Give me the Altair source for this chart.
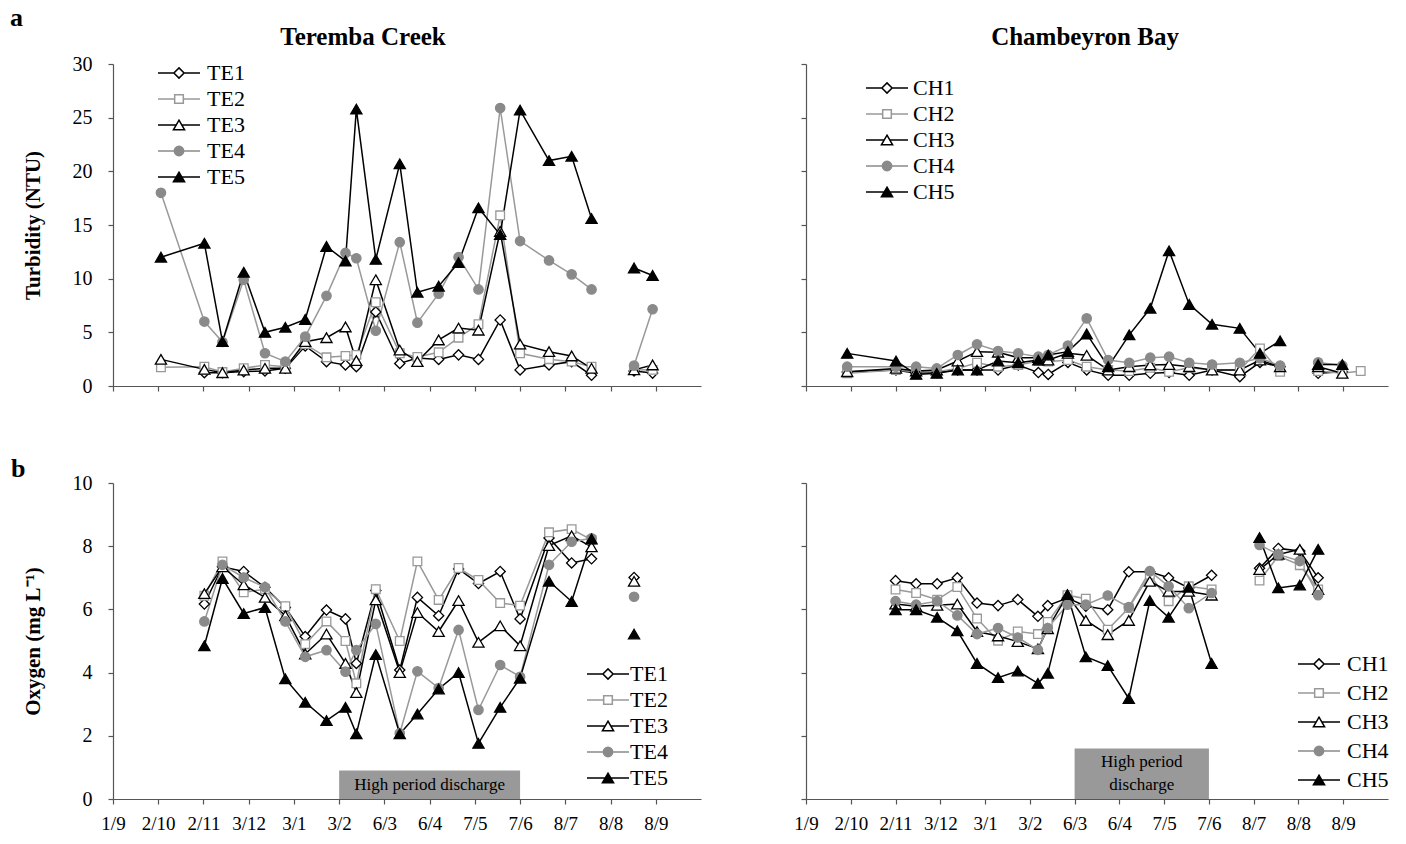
import altair as alt
import pandas as pd

FONT = "Liberation Serif"
MONTHS = ["1/9", "2/10", "2/11", "3/12", "3/1", "3/2", "6/3", "6/4", "7/5", "7/6", "8/7", "8/8", "8/9"]

# ---------------- Turbidity, Teremba Creek ----------------
X_TE_TURB = [1.06, 2.02, 2.42, 2.89, 3.36, 3.81, 4.25, 4.72, 5.14, 5.38, 5.81, 6.34, 6.73,
             7.20, 7.64, 8.08, 8.56, 9.0, 9.64, 10.14, 10.58, 11.52, 11.93]
TE1_TURB = [None, 1.24, 1.24, 1.34, 1.4, 1.65, 3.73, 2.27, 1.96, 1.8, 6.9, 2.1, 2.6,
            2.48, 2.9, 2.48, 6.15, 1.5, 1.96, 2.27, 1.0, 1.4, 1.2]
TE2_TURB = [1.74, 1.8, 1.3, 1.65, 1.96, 1.8, 3.9, 2.67, 2.8, 2.9, 7.8, 3.05, 2.7,
            3.14, 4.5, 5.75, 15.9, 3.05, 2.5, 2.27, 1.8, 1.5, 1.5]
TE3_TURB = [2.48, 1.55, 1.24, 1.49, 1.65, 1.65, 4.13, 4.5, 5.5, 2.36, 9.9, 3.35, 2.27,
            4.29, 5.4, 5.2, 14.4, 3.9, 3.2, 2.8, 1.65, 1.5, 1.96]
TE4_TURB = [18.0, 6.0, 4.1, 9.9, 3.05, 2.27, 4.6, 8.4, 12.4, 11.9, 5.15, 13.4, 5.9,
            8.6, 12.0, 9.0, 25.9, 13.5, 11.7, 10.4, 9.0, 1.9, 7.15]
TE5_TURB = [12.0, 13.3, 4.13, 10.6, 5.0, 5.47, 6.2, 13.0, 11.65, 25.8, 11.8, 20.7, 8.73,
            9.3, 11.5, 16.6, 14.1, 25.7, 21.0, 21.4, 15.6, 11.0, 10.3]

# ---------------- Turbidity, Chambeyron Bay ----------------
X_CH_TURB = [0.92, 2.01, 2.46, 2.92, 3.39, 3.82, 4.29, 4.74, 5.19, 5.41, 5.85, 6.27, 6.75,
             7.22, 7.69, 8.11, 8.56, 9.07, 9.69, 10.14, 10.59, 11.44, 11.98, 12.39]
CH1_TURB = [1.3, 1.49, 1.18, 1.25, 1.49, 1.49, 1.49, 1.96, 1.25, 1.08, 2.2, 1.5, 1.0,
            1.0, 1.18, 1.25, 1.0, 1.49, 0.87, 2.2, 1.8, 1.18, 1.33, None]
CH2_TURB = [1.18, 1.49, 1.33, 1.33, 1.64, 2.17, 1.8, 1.96, 2.33, 2.27, 2.42, 1.8, 1.49,
            1.4, 1.7, 1.33, 1.7, 1.49, 1.49, 3.5, 1.33, 1.4, 1.18, 1.4]
CH3_TURB = [1.33, 1.64, 1.4, 1.49, 2.33, 3.2, 3.15, 2.64, 2.64, 2.42, 3.04, 2.86, 1.49,
            1.8, 1.96, 2.0, 1.8, 1.49, 1.49, 2.42, 1.8, 1.8, 1.18, None]
CH4_TURB = [1.8, 1.8, 1.8, 1.64, 2.89, 3.88, 3.26, 3.04, 2.73, 2.89, 3.76, 6.3, 2.42,
            2.17, 2.64, 2.73, 2.17, 2.0, 2.17, 2.58, 1.9, 2.2, 1.9, None]
CH5_TURB = [3.04, 2.33, 1.08, 1.18, 1.49, 1.49, 2.33, 2.17, 2.42, 2.89, 3.2, 4.85, 1.8,
            4.76, 7.24, 12.6, 7.6, 5.75, 5.37, 3.04, 4.2, 2.0, 2.0, None]

# ---------------- Oxygen, Teremba Creek ----------------
X_TE_OX = [2.02, 2.42, 2.89, 3.36, 3.81, 4.25, 4.72, 5.14, 5.38, 5.81, 6.34, 6.73,
           7.20, 7.64, 8.08, 8.56, 9.0, 9.64, 10.14, 10.58, 11.52]
TE1_OX = [6.17, 7.35, 7.2, 6.7, 6.06, 5.14, 5.98, 5.7, 4.29, 6.6, 4.08, 6.38,
          5.8, 7.28, 6.82, 7.2, 5.7, 8.26, 7.47, 7.6, 7.01]
TE2_OX = [6.43, 7.52, 6.54, 6.64, 6.1, 4.9, 5.62, 5.0, 3.66, 6.64, 5.0, 7.52,
          6.3, 7.31, 6.93, 6.2, 6.12, 8.44, 8.54, 8.2, None]
TE3_OX = [6.5, 7.35, 6.78, 6.38, 5.8, 4.59, 5.22, 4.29, 3.37, 6.3, 4.0, 5.9,
          5.3, 6.28, 4.96, 5.48, 4.85, 8.02, 8.33, 7.98, 6.89]
TE4_OX = [5.62, 7.41, 7.01, 6.7, 5.62, 4.5, 4.71, 4.03, 4.71, 5.54, 2.08, 4.04,
          3.51, 5.35, 2.82, 4.24, 3.87, 7.41, 8.14, 8.25, 6.4]
TE5_OX = [4.85, 6.98, 5.87, 6.06, 3.8, 3.06, 2.48, 2.9, 2.06, 4.57, 2.06, 2.69,
          3.48, 4.0, 1.76, 2.9, 3.82, 6.89, 6.25, 8.23, 5.22]

# ---------------- Oxygen, Chambeyron Bay ----------------
X_CH_OX = [2.0, 2.46, 2.93, 3.38, 3.82, 4.29, 4.73, 5.18, 5.40, 5.84, 6.25, 6.74,
           7.21, 7.68, 8.1, 8.55, 9.06, 10.13, 10.55, 11.03, 11.44]
CH1_OX = [6.91, 6.81, 6.81, 7.0, 6.2, 6.12, 6.31, 5.78, 6.12, 6.36, 6.1, 5.99,
          7.19, 7.19, 7.0, 6.68, 7.08, 7.3, 7.93, 7.85, 7.0]
CH2_OX = [6.63, 6.52, 6.31, 6.71, 5.71, 5.01, 5.3, 5.22, 5.6, 6.45, 6.34, 5.36,
          6.04, 7.1, 6.26, 6.73, 6.63, 6.91, 7.69, 7.4, 6.63]
CH3_OX = [6.17, 6.1, 6.13, 6.17, 5.3, 5.16, 4.98, 4.75, 5.39, 6.45, 5.65, 5.2,
          5.65, 6.89, 6.57, 6.57, 6.45, 7.26, 7.74, 7.9, 6.63]
CH4_OX = [6.26, 6.15, 6.26, 5.81, 5.22, 5.41, 5.11, 4.72, 5.41, 6.15, 6.15, 6.44,
          6.07, 7.21, 6.73, 6.04, 6.52, 8.04, 7.74, 7.53, 6.45]
CH5_OX = [5.99, 5.99, 5.75, 5.32, 4.29, 3.84, 4.05, 3.66, 3.98, 6.47, 4.5, 4.22,
          3.18, 6.28, 5.75, 6.7, 4.29, 8.27, 6.68, 6.77, 7.9]

# sampling gaps (lines are broken between these x positions)
BREAK_TE_TURB, BREAK_CH_TURB, BREAK_TE_OX, BREAK_CH_OX = 11.0, 11.0, 11.0, 9.6

# "High period discharge" boxes
DISCHARGE_TE = {"x0": 5, "x1": 9, "y0": 0, "y1": 0.9, "label": "High period discharge"}
DISCHARGE_CH = {"x0": 6, "x1": 9, "y0": 0, "y1": 1.6, "label": "High period\ndischarge"}

TE_NAMES = ["TE1", "TE2", "TE3", "TE4", "TE5"]
CH_NAMES = ["CH1", "CH2", "CH3", "CH4", "CH5"]

# styles
BLACK, GRAY, GRAYFILL, AXC = "#000000", "#999999", "#8a8a8a", "#555555"
LINE_COLORS = [BLACK, GRAY, BLACK, GRAY, BLACK]
STROKES = [BLACK, GRAY, BLACK, GRAYFILL, BLACK]
FILLS = ["#ffffff", "#ffffff", "#ffffff", GRAYFILL, BLACK]
DIA = "M0,-0.85L0.85,0L0,0.85L-0.85,0Z"
SQ = "M-0.72,-0.72H0.72V0.72H-0.72Z"
TRI = "M0,-0.8L0.93,0.8L-0.93,0.8Z"
CIR = "M-0.78,0A0.78,0.78 0 1,0 0.78,0A0.78,0.78 0 1,0 -0.78,0Z"
POINT_PATHS = [DIA, SQ, TRI, CIR, TRI]
LEG_PATHS = [
    "M-3.5,0H-0.85M0.85,0H3.5" + DIA,
    "M-3.5,0H-0.72M0.72,0H3.5" + SQ,
    "M-3.5,0H-0.465M0.465,0H3.5" + TRI,
    "M-3.5,0H3.5" + CIR,
    "M-3.5,0H3.5" + TRI,
]
LABEL_EXPR = "[" + ",".join("'%s'" % m for m in MONTHS) + "][datum.value]"


def make_df(xs, series, names, brk):
    rows = []
    for name, vals in zip(names, series):
        for x, v in zip(xs, vals):
            if v is None:
                continue
            rows.append({"x": x, "v": v, "series": name,
                         "seg": "%s-%d" % (name, 0 if x < brk else 1)})
    return pd.DataFrame(rows)


def text_layer(txt, x, y, size, bold=True, align="left"):
    return alt.Chart(alt.Data(values=[{}])).mark_text(
        text=txt, font=FONT, fontSize=size, fontWeight="bold" if bold else "normal",
        align=align, baseline="alphabetic", color="black"
    ).encode(x=alt.value(x), y=alt.value(y))


def panel(df, names, ymax, ystep, width, height, ytitle, ylabels, xlabels,
          leg, discharge=None, text_dy=0, texts=()):
    xaxis = alt.Axis(values=list(range(13)), labels=xlabels, title=None,
                     labelExpr=LABEL_EXPR, labelFont=FONT, labelFontSize=19,
                     labelPadding=10, labelFlush=False, tickSize=5)
    yaxis_kw = dict(values=list(range(0, ymax + 1, ystep)), labels=ylabels,
                    labelFont=FONT, labelFontSize=20, labelPadding=16,
                    labelFlush=False, tickSize=5)
    if ytitle:
        yaxis_kw.update(title=ytitle, titleFont=FONT, titleFontSize=21,
                        titleFontWeight="bold", titleAngle=270, titleX=-80,
                        titleBaseline="middle", titleAlign="center", titleColor="black")
    else:
        yaxis_kw.update(title=None)
    X = alt.X("x:Q", scale=alt.Scale(domain=[0, 13], nice=False, zero=False), axis=xaxis)
    Y = alt.Y("v:Q", scale=alt.Scale(domain=[0, ymax], nice=False), axis=alt.Axis(**yaxis_kw))

    layers = []
    if discharge is not None:
        ddf = pd.DataFrame([discharge])
        layers.append(alt.Chart(ddf).mark_rect(color="#999999").encode(
            x=alt.X("x0:Q"), x2="x1:Q", y=alt.Y("y0:Q"), y2="y1:Q"))
        layers.append(alt.Chart(ddf).transform_calculate(
            xm="(datum.x0 + datum.x1) / 2", ym="(datum.y0 + datum.y1) / 2"
        ).mark_text(font=FONT, fontSize=17, color="black", lineBreak="\n",
                    lineHeight=23, baseline="middle", dy=text_dy).encode(
            x="xm:Q", y="ym:Q", text="label:N"))

    lines = alt.Chart(df).mark_line(strokeWidth=1.5).encode(
        x=X, y=Y,
        color=alt.Color("series:N", scale=alt.Scale(domain=names, range=LINE_COLORS), legend=None),
        detail="seg:N")
    points = alt.Chart(df).mark_point(size=144, opacity=1, strokeWidth=1.3).encode(
        x=X, y=Y,
        shape=alt.Shape("series:N", scale=alt.Scale(domain=names, range=POINT_PATHS), legend=None),
        fill=alt.Fill("series:N", scale=alt.Scale(domain=names, range=FILLS), legend=None),
        stroke=alt.Stroke("series:N", scale=alt.Scale(domain=names, range=STROKES), legend=None))
    lx, ly, rp, lo = leg
    lg = alt.Legend(title=None, orient="none", legendX=lx, legendY=ly, symbolSize=144,
                    symbolStrokeWidth=1.5, labelFont=FONT, labelFontSize=22,
                    labelColor="black", labelOffset=lo, rowPadding=rp, padding=0,
                    symbolOpacity=1)
    legend_layer = alt.Chart(df).transform_filter("false").mark_point(
        size=144, opacity=1, strokeWidth=1.5).encode(
        x=X, y=Y,
        shape=alt.Shape("series:N", scale=alt.Scale(domain=names, range=LEG_PATHS), legend=lg),
        fill=alt.Fill("series:N", scale=alt.Scale(domain=names, range=FILLS), legend=lg),
        stroke=alt.Stroke("series:N", scale=alt.Scale(domain=names, range=STROKES), legend=lg))
    layers += [lines, points, legend_layer]
    layers += [text_layer(*t) for t in texts]
    return alt.layer(*layers).resolve_scale(
        shape="independent", fill="independent", stroke="independent"
    ).properties(width=width, height=height)


df_tl = make_df(X_TE_TURB, [TE1_TURB, TE2_TURB, TE3_TURB, TE4_TURB, TE5_TURB], TE_NAMES, BREAK_TE_TURB)
df_tr = make_df(X_CH_TURB, [CH1_TURB, CH2_TURB, CH3_TURB, CH4_TURB, CH5_TURB], CH_NAMES, BREAK_CH_TURB)
df_bl = make_df(X_TE_OX, [TE1_OX, TE2_OX, TE3_OX, TE4_OX, TE5_OX], TE_NAMES, BREAK_TE_OX)
df_br = make_df(X_CH_OX, [CH1_OX, CH2_OX, CH3_OX, CH4_OX, CH5_OX], CH_NAMES, BREAK_CH_OX)

tl = panel(df_tl, TE_NAMES, 30, 5, 588, 322, "Turbidity (NTU)", True, False,
           (55, -2, 4, 17),
           texts=[("a", -103, -38, 26), ("Teremba Creek", 250, -19.5, 25, True, "center")])
tr = panel(df_tr, CH_NAMES, 30, 5, 582, 322, None, False, False,
           (70, 13, 4, 15),
           texts=[("Chambeyron Bay", 279, -19.5, 25, True, "center")])
bl = panel(df_bl, TE_NAMES, 10, 2, 588, 316, "Oxygen (mg L\u207b\u00b9)", True, True,
           (484, 180, 4, 11), discharge=DISCHARGE_TE,
           texts=[("b", -102, -6, 26)])
br = panel(df_br, CH_NAMES, 10, 2, 582, 316, None, False, True,
           (502, 170, 7, 17), discharge=DISCHARGE_CH, text_dy=-11.5)

chart = alt.concat(tl, tr, bl, br, columns=2, spacing={"row": 97, "column": 105},
                   bounds="flush").properties(
    padding={"left": 10, "top": 5, "right": 5, "bottom": 5}
).configure_axis(
    domainColor=AXC, tickColor=AXC, domainWidth=1.2, tickWidth=1.2, grid=False,
    labelFont=FONT, labelColor="black"
).configure_view(strokeWidth=0)

chart.save("out.html", embed_options={"renderer": "svg", "actions": False})
